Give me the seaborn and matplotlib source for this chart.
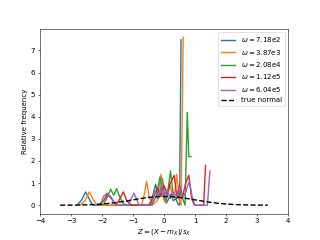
import numpy as np
import seaborn as sns
import matplotlib.pyplot as plt

# omega labels
labels = ["7.18e2", "3.87e3", "2.08e4", "1.12e5", "6.04e5"]

# values
x_b = [-2.80, -2.65, -2.53, -2.42, -2.30, -0.45, -0.35, -0.27, -0.18, -0.12, -0.05,
       0.02, 0.08, 0.15, 0.22, 0.30, 0.38, 0.45, 0.50, 0.55]
y_b = [0, 0.25, 0.6, 0.3, 0, 0, 0.5, 0.95, 0.3, 0.6, 1.2,
       0.4, 0.1, 0.3, 0.5, 0.2, 0.3, 0.05, 0, 7.48]

x_o = [-2.70, -2.55, -2.41, -2.28, -2.15, -0.72, -0.62, -0.56, -0.48, -0.38,
       -0.22, -0.15, -0.09, -0.02, 0.05, 0.12, 0.20, 0.28, 0.35, 0.41, 0.48, 0.55, 0.62]
y_o = [0, 0.2, 0.6, 0.25, 0, 0, 0.6, 1.07, 0.4, 0,
       0.2, 0.9, 1.4, 0.3, 0.1, 0.5, 0.9, 0.3, 0.6, 1.4, 0.3, 0, 7.6]

x_g = [-2.15, -1.95, -1.85, -1.72, -1.62, -1.53, -1.42, -1.30, -1.15,
       -0.40, -0.25, -0.13, -0.05, 0.05, 0.12, 0.21, 0.30, 0.40, 0.50, 0.60, 0.68, 0.75, 0.80, 0.87]
y_g = [0, 0.05, 0.3, 0.72, 0.45, 0.75, 0.35, 0.05, 0,
       0, 0.4, 1.28, 0.6, 0.2, 0.6, 1.55, 0.4, 0.3, 0.6, 0.3, 0, 4.2, 2.2, 2.2]

x_r = [-2.10, -1.95, -1.83, -1.70, -1.55, -1.42, -1.31, -1.20, -1.05,
       -0.50, -0.35, -0.20, -0.10, 0.00, 0.10, 0.20, 0.33, 0.42, 0.50, 0.60, 0.70, 0.80, 0.89, 0.98,
       1.05, 1.28, 1.34]
y_r = [0, 0.2, 0.5, 0.3, 0, 0.3, 0.6, 0.2, 0,
       0, 0.3, 0.8, 0.4, 0.9, 0.5, 1.0, 1.35, 0.3, 0.9, 0.4, 1.0, 1.35, 0.3, 0,
       0, 0, 1.8]

x_p = [-2.05, -1.95, -1.83, -1.70, -1.55, -1.15, -0.97, -0.80,
       -0.40, -0.30, -0.20, -0.10, 0.00, 0.10, 0.20, 0.30, 0.40, 0.50, 0.60, 0.70, 0.82, 0.92,
       1.00, 1.40, 1.48]
y_p = [0, 0.4, 0.55, 0.35, 0, 0, 0.55, 0,
       0, 0.7, 0.3, 0.8, 0.4, 0.7, 0.3, 0.6, 0.4, 0.8, 0.3, 0.6, 1.1, 0.3,
       0, 0, 1.55]

x_n = [-3.35, -3.0, -2.75, -2.5, -2.25, -2.0, -1.75, -1.5, -1.25, -1.0, -0.75, -0.5, -0.25, 0.0,
       0.25, 0.5, 0.75, 1.0, 1.25, 1.5, 1.75, 2.0, 2.25, 2.5, 2.75, 3.0, 3.35]
y_n = [0.001, 0.004, 0.009, 0.018, 0.032, 0.054, 0.086, 0.13, 0.183, 0.242, 0.301, 0.352, 0.387, 0.399,
       0.387, 0.352, 0.301, 0.242, 0.183, 0.13, 0.086, 0.054, 0.032, 0.018, 0.009, 0.004, 0.001]

series = [(x_b, y_b), (x_o, y_o), (x_g, y_g), (x_r, y_r), (x_p, y_p)]
colors = sns.color_palette("tab10")

fig, ax = plt.subplots(figsize=(6.4, 4.8), dpi=50)
for (xs, ys), lab, c in zip(series, labels, colors):
    sns.lineplot(x=xs, y=ys, ax=ax, color=c, linewidth=2, label=r"$\omega = $" + lab, sort=False)
sns.lineplot(x=x_n, y=y_n, ax=ax, color="black", linestyle="--", linewidth=2,
             label="true normal", sort=False)

ax.set_xlim(-4, 4)
ax.set_xlabel(r"$Z = (X - m_X)/s_X$")
ax.set_ylabel("Relative frequency")
ax.legend(loc="upper right")

plt.savefig("out.png")
